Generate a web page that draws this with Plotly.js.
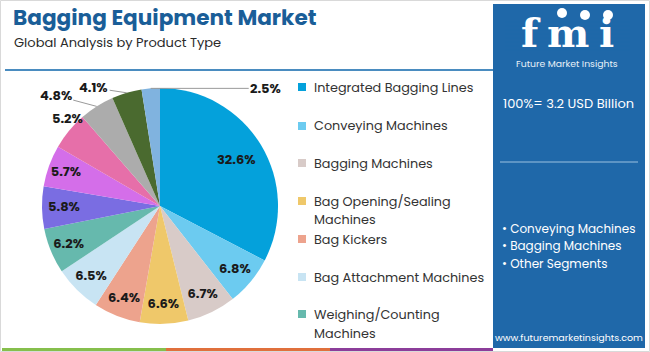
<!DOCTYPE html>
<html>
<head>
<meta charset="utf-8">
<script src="https://cdn.plot.ly/plotly-3.0.1.min.js"></script>
<style>html,body{margin:0;padding:0;background:#fff;}#chart{width:650px;height:352px;}</style>
</head>
<body>
<div id="chart"></div>
<script>
// ---- data ----
const categories = [
  "Integrated Bagging Lines",
  "Conveying Machines",
  "Bagging Machines",
  "Bag Opening/Sealing Machines",
  "Bag Kickers",
  "Bag Attachment Machines",
  "Weighing/Counting Machines",
  "Palletizing Machines",
  "Bag Flattening Machines",
  "Check Weighers",
  "Labeling Machines",
  "Stretch Hooders",
  "Others"
];
const shares = [32.6, 6.8, 6.7, 6.6, 6.4, 6.5, 6.2, 5.8, 5.7, 5.2, 4.8, 4.1, 2.5];
const sliceColors = ["#04a1db", "#6ccbf0", "#d8cbc8", "#efc86a", "#eda38d", "#c8e4f3", "#66b9ad",
                     "#7a6de2", "#d46ee9", "#e66fa9", "#acacac", "#4a6a2f", "#80b3df"];
const legendShown = [
  ["Integrated Bagging Lines"],
  ["Conveying Machines"],
  ["Bagging Machines"],
  ["Bag Opening/Sealing", "Machines"],
  ["Bag Kickers"],
  ["Bag Attachment Machines"],
  ["Weighing/Counting", "Machines"]
];
const titleText = "Bagging Equipment Market";
const subtitleText = "Global Analysis by Product Type";
const totalText = "100%= 3.2 USD Billion";
const bulletItems = ["Conveying Machines", "Bagging Machines", "Other Segments"];
const siteText = "www.futuremarketinsights.com";

// ---- helpers (pixel -> paper) ----
const W = 650, H = 352;
const px = x => x / W;
const py = y => 1 - y / H;

const FONT = "Poppins, Lato, 'Open Sans', sans-serif";
const panelColor = "#1f68a9";

const pieCx = 160, pieCy = 206, pieR = 118;

// labels drawn as annotations (index -> placement)
const customLabels = {
  0:  {kind: "in", r: 0.76},
  9:  {kind: "out", dx: -19, dy: -12, arrow: false},
  10: {kind: "out", dx: -41, dy: -11, arrow: true},
  11: {kind: "out", dx: -33, dy: -5,  arrow: true},
  12: {kind: "out", dx: 115, dy: 0,   arrow: true}
};
const labelPositions = shares.map((v, i) => (i in customLabels) ? "none" : "inside");

const trace = {
  type: "pie",
  labels: categories,
  values: shares,
  sort: false,
  direction: "clockwise",
  rotation: 0,
  marker: {colors: sliceColors, line: {width: 0}},
  texttemplate: "%{value:.1f}%",
  textposition: labelPositions,
  insidetextorientation: "horizontal",
  textfont: {family: FONT, size: 13, color: "#1a1a1a", weight: "bold"},
  hoverinfo: "label+percent",
  showlegend: false,
  domain: {x: [px(pieCx - pieR), px(pieCx + pieR)], y: [py(pieCy + pieR), py(pieCy - pieR)]}
};

const shapes = [];
const annotations = [];

// custom pie labels, anchored on the slice's mid-angle
const total = shares.reduce((a, b) => a + b, 0);
let cum = 0;
shares.forEach((v, i) => {
  const mid = (cum + v / 2) / total * 2 * Math.PI;
  cum += v;
  if (!(i in customLabels)) return;
  const o = customLabels[i];
  const rr = o.kind === "in" ? pieR * o.r : pieR;
  const xr = pieCx + rr * Math.sin(mid), yr = pieCy - rr * Math.cos(mid);
  const a = {text: "<b>" + v.toFixed(1) + "%</b>", xref: "paper", yref: "paper", x: px(xr), y: py(yr),
    font: {family: FONT, size: 13, color: "#1a1a1a"}};
  if (o.kind === "in") {
    Object.assign(a, {showarrow: false});
  } else if (o.arrow) {
    Object.assign(a, {showarrow: true, arrowhead: 0, arrowwidth: 1, arrowcolor: "#9a9a9a", ax: o.dx, ay: o.dy, standoff: 0});
  } else {
    Object.assign(a, {showarrow: false, xshift: o.dx, yshift: -o.dy});
  }
  annotations.push(a);
});

// outer border
shapes.push({type: "rect", xref: "paper", yref: "paper", x0: px(0.5), x1: px(649.5), y0: py(351.5), y1: py(0.5),
  line: {color: "#d9d9d9", width: 1}, fillcolor: "rgba(0,0,0,0)", layer: "below"});
// right panel
shapes.push({type: "rect", xref: "paper", yref: "paper", x0: px(493), x1: px(645), y0: py(348), y1: py(4),
  line: {width: 0}, fillcolor: panelColor, layer: "below"});
// title underline
shapes.push({type: "line", xref: "paper", yref: "paper", x0: px(5), x1: px(493), y0: py(70), y1: py(70),
  line: {color: "#4a8cc0", width: 2}});
// bottom strips
const strips = [[2, 166, "#86bf4c"], [166, 330, "#e0703c"], [330, 493, "#8c3d9a"]];
strips.forEach(s => shapes.push({type: "rect", xref: "paper", yref: "paper", x0: px(s[0]), x1: px(s[1]),
  y0: py(351), y1: py(348), line: {width: 0}, fillcolor: s[2]}));
// panel separator
shapes.push({type: "line", xref: "paper", yref: "paper", x0: px(500), x1: px(638), y0: py(162), y1: py(162),
  line: {color: "#9cc1e0", width: 1}});

// titles
annotations.push({text: "<b>" + titleText + "</b>", xref: "paper", yref: "paper", x: px(11), y: py(17),
  xanchor: "left", yanchor: "middle", showarrow: false, font: {family: FONT, size: 21.6, color: "#1a5e98"}});
annotations.push({text: subtitleText, xref: "paper", yref: "paper", x: px(12), y: py(42),
  xanchor: "left", yanchor: "middle", showarrow: false, font: {family: FONT, size: 13, color: "#2a2a2a"}});

// legend (first 7 entries, as in the reference)
const legendY = [[87], [126], [163], [201, 219], [239], [277], [314, 333]];
legendShown.forEach((lines, i) => {
  const y0 = legendY[i][0];
  shapes.push({type: "rect", xref: "paper", yref: "paper", x0: px(298), x1: px(306), y0: py(y0 + 4), y1: py(y0 - 4),
    line: {width: 0}, fillcolor: sliceColors[i]});
  lines.forEach((t, j) => annotations.push({text: t, xref: "paper", yref: "paper", x: px(312), y: py(legendY[i][j]),
    xanchor: "left", yanchor: "middle", showarrow: false, font: {family: FONT, size: 12.8, color: "#333333"}}));
});

// panel: logo
const logoLetters = [["f", 531], ["m", 568], ["i", 606]];
logoLetters.forEach(l => annotations.push({text: "<b>" + l[0] + "</b>", xref: "paper", yref: "paper", x: px(l[1]), y: py(32),
  xanchor: "center", yanchor: "middle", showarrow: false,
  font: {family: "'DejaVu Serif', serif", size: 40, color: "#ffffff"}}));
for (let y = 22; y <= 50; y += 4) {
  shapes.push({type: "line", xref: "paper", yref: "paper", x0: px(505), x1: px(630), y0: py(y), y1: py(y),
    line: {color: panelColor, width: 1}});
}
[[562, 13], [585, 15], [608, 15]].forEach(c => shapes.push({type: "circle", xref: "paper", yref: "paper",
  x0: px(c[0] - 5), x1: px(c[0] + 5), y0: py(c[1] + 5), y1: py(c[1] - 5), line: {width: 0}, fillcolor: "#ffffff"}));
annotations.push({text: "Future Market Insights", xref: "paper", yref: "paper", x: px(567), y: py(63.5),
  xanchor: "center", yanchor: "middle", showarrow: false, font: {family: FONT, size: 9.3, color: "#e8f1f8"}});

// panel texts
annotations.push({text: totalText, xref: "paper", yref: "paper", x: px(568), y: py(103),
  xanchor: "center", yanchor: "middle", showarrow: false, font: {family: FONT, size: 13, color: "#ffffff"}});
bulletItems.forEach((t, i) => annotations.push({text: "• " + t, xref: "paper", yref: "paper", x: px(500), y: py(228 + i * 17.5),
  xanchor: "left", yanchor: "middle", showarrow: false, font: {family: FONT, size: 12, color: "#ffffff"}}));
annotations.push({text: siteText, xref: "paper", yref: "paper", x: px(569), y: py(337),
  xanchor: "center", yanchor: "middle", showarrow: false, font: {family: FONT, size: 9.5, color: "#ffffff"}});

const layout = {
  width: W, height: H,
  margin: {l: 0, r: 0, t: 0, b: 0},
  paper_bgcolor: "#ffffff",
  plot_bgcolor: "#ffffff",
  showlegend: false,
  shapes: shapes,
  annotations: annotations
};

Plotly.newPlot("chart", [trace], layout, {displayModeBar: false, staticPlot: true});
</script>
</body>
</html>
